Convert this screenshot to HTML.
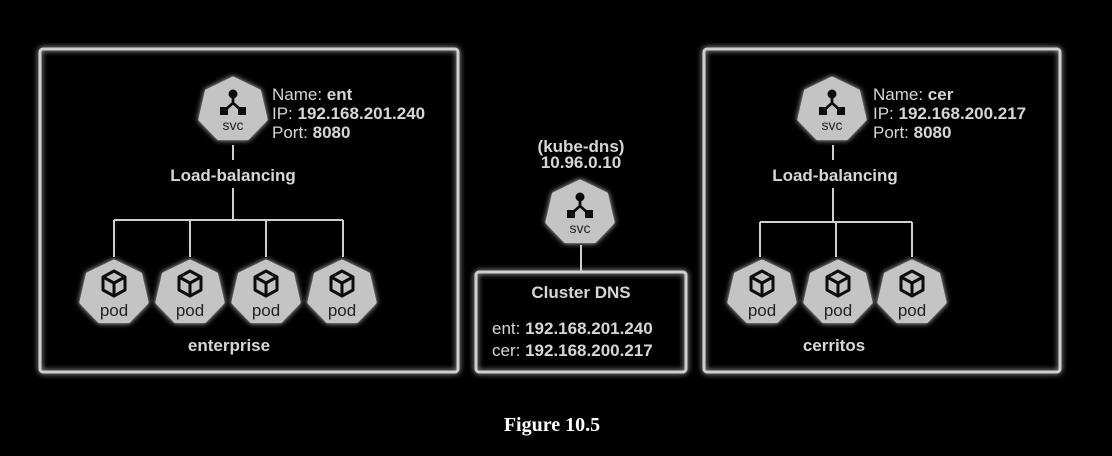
<!DOCTYPE html>
<html><head><style>
html,body{margin:0;padding:0;background:#000;}
svg{display:block}
text{font-family:"Liberation Sans",sans-serif;fill:#d6d6d6}
.b{font-weight:bold}
</style></head><body>
<svg width="1112" height="456" viewBox="0 0 1112 456" xmlns="http://www.w3.org/2000/svg">
<defs>
<filter id="g" x="-20%" y="-20%" width="140%" height="140%"><feGaussianBlur stdDeviation="3" result="b"/><feMerge><feMergeNode in="b"/><feMergeNode in="SourceGraphic"/></feMerge></filter>
<g id="hep"><polygon points="0,-34 26.6,-21.2 33.2,7.6 14.8,26.6 -14.8,26.6 -33.2,7.6 -26.6,-21.2" fill="#c4c4c4" stroke="#c4c4c4" stroke-width="3" stroke-linejoin="round"/></g>
<g id="svc"><use href="#hep"/>
<circle cx="0" cy="-18" r="4.5" fill="#111"/><path d="M0,-18 L0,-9 M0,-9 L-9,-1 M0,-9 L9,-1" stroke="#111" stroke-width="2.8" fill="none"/>
<rect x="-13" y="-5" width="8" height="8" fill="#111"/><rect x="5" y="-5" width="8" height="8" fill="#111"/>
<text x="0" y="18" font-size="14" text-anchor="middle" style="fill:#222">svc</text></g>
<g id="pod"><use href="#hep"/>
<path d="M0,-24 L11,-18 L11,-5 L0,1 L-11,-5 L-11,-18 Z M-11,-18 L0,-12 L11,-18 M0,-12 L0,1" stroke="#111" stroke-width="3" fill="none" stroke-linejoin="round"/>
<text x="0" y="21" font-size="17" text-anchor="middle" style="fill:#222">pod</text></g>
</defs>
<g filter="url(#g)" stroke="#cfcfcf" stroke-width="3" fill="none">
<rect x="40" y="49" width="418" height="323" rx="3"/>
<rect x="704" y="49" width="356" height="323" rx="3"/>
<rect x="476" y="272" width="210" height="100" rx="3"/>
</g>
<g stroke="#cfcfcf" stroke-width="2" fill="none">
<path d="M233,145 V160 M233,188 V220 M114,220 H343 M114,220 V257 M190,220 V257 M266,220 V257 M343,220 V257"/>
<path d="M833,145 V160 M833,188 V222 M760,222 H912 M760,222 V257 M836,222 V257 M912,222 V257"/>
<path d="M581,245 V272"/>
</g>
<g filter="url(#g)">
<use href="#svc" x="233" y="112"/>
<use href="#svc" x="832" y="112"/>
<use href="#svc" x="580" y="215"/>
<use href="#pod" x="114" y="295"/>
<use href="#pod" x="190" y="295"/>
<use href="#pod" x="266" y="295"/>
<use href="#pod" x="342" y="295"/>
<use href="#pod" x="762" y="295"/>
<use href="#pod" x="838" y="295"/>
<use href="#pod" x="912" y="295"/>
</g>
<g font-size="17">
<text x="272" y="100">Name: <tspan class="b">ent</tspan></text>
<text x="272" y="119">IP: <tspan class="b">192.168.201.240</tspan></text>
<text x="272" y="138">Port: <tspan class="b">8080</tspan></text>
<text x="873" y="100">Name: <tspan class="b">cer</tspan></text>
<text x="873" y="119">IP: <tspan class="b">192.168.200.217</tspan></text>
<text x="873" y="138">Port: <tspan class="b">8080</tspan></text>
<text x="233" y="181" text-anchor="middle" class="b">Load-balancing</text>
<text x="835" y="181" text-anchor="middle" class="b">Load-balancing</text>
<text x="229" y="351" text-anchor="middle" class="b">enterprise</text>
<text x="834" y="351" text-anchor="middle" class="b">cerritos</text>
<text x="581" y="152" text-anchor="middle" class="b">(kube-dns)</text>
<text x="581" y="168" text-anchor="middle" class="b">10.96.0.10</text>
<text x="581" y="298" text-anchor="middle" class="b">Cluster DNS</text>
<text x="492" y="334">ent: <tspan class="b">192.168.201.240</tspan></text>
<text x="492" y="356">cer: <tspan class="b">192.168.200.217</tspan></text>
</g>
<text x="552" y="431" text-anchor="middle" font-size="20" style="font-family:'Liberation Serif',serif;font-weight:bold;fill:#fff">Figure 10.5</text>
</svg>
</body></html>
